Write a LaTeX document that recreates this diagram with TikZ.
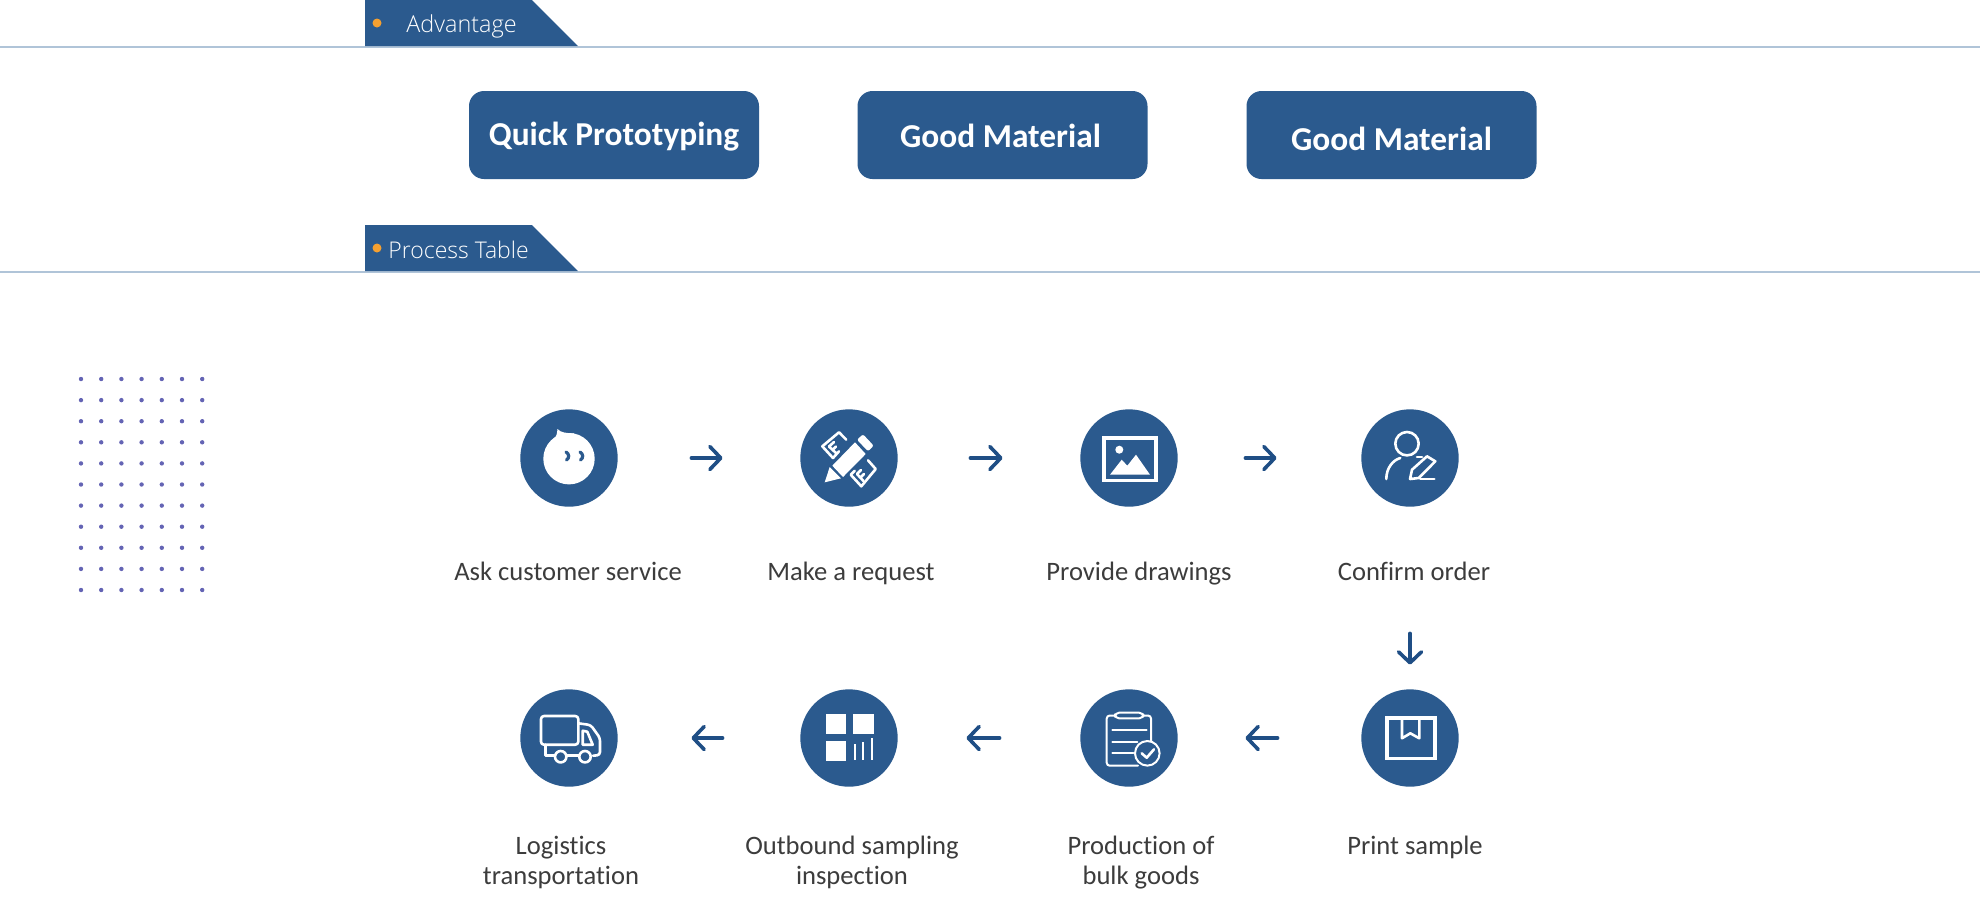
\documentclass[tikz,border=0pt]{standalone}
\usepackage{fontspec}
\usetikzlibrary{arrows.meta}
\setmainfont{Carlito}[Ligatures=NoCommon]
\newfontfamily\tabfont{Open Sans Light}
\newfontfamily\btnfont{Carlito Bold}[Ligatures=NoCommon]
\definecolor{brand}{HTML}{2B5A8E}
\definecolor{arrowblue}{HTML}{1F4E85}
\definecolor{rule}{HTML}{B0C4D8}
\definecolor{spot}{HTML}{F5A030}
\definecolor{speck}{HTML}{6464B4}
\definecolor{ink}{HTML}{3C3C3C}
\tikzset{
  x=0.5pt,y=-0.5pt,
  tabshape/.style={fill=brand,draw=none},
  headrule/.style={draw=rule,line width=1pt},
  tabdot/.style={fill=spot,draw=none},
  tabtext/.style={text=white,font=\tabfont\fontsize{11.7}{14}\selectfont,anchor=base west,inner sep=0pt},
  btn/.style={fill=brand,rounded corners=7.5pt,minimum width=145pt,minimum height=44pt,inner sep=0pt},
  btnlabel/.style={text=white,font=\btnfont\fontsize{16.7}{20}\selectfont,inner sep=0pt,anchor=base},
  disc/.style={circle,fill=brand,minimum size=48.7pt,inner sep=0pt},
  caption/.style={text=ink,font=\fontsize{13.3}{16}\selectfont,align=center,inner sep=0pt,anchor=base},
  flow/.style n args={2}{draw=arrowblue,line width=1.8pt,line cap=round,-{Straight Barb[round,length=5.5pt,width=11.5pt]},shorten <=#1,shorten >=#2},
  icl/.style={draw=white,line width=1.3pt,fill=none,line join=round,line cap=round},
  icf/.style={fill=white,draw=none},
}
\begin{document}
\begin{tikzpicture}
\useasboundingbox (0,0) rectangle (1980,918);
% section headers
\draw[headrule] (0,47) -- (1980,47);
\fill[tabshape] (365,0) -- (532,0) -- (578,46) -- (365,46) -- cycle;
\fill[tabdot] (377,23) circle (4.5);
\node[tabtext] (t1) at (406,32) {Advantage};
\draw[headrule] (0,272) -- (1980,272);
\fill[tabshape] (365,225) -- (532,225) -- (578,271) -- (365,271) -- cycle;
\fill[tabdot] (377,248) circle (4.5);
\node[tabtext,font=\tabfont\fontsize{11.5}{14}\selectfont] (t2) at (388,258) {Process Table};
% buttons
\node[btn] (b1) at (614,135) {};
\node[btnlabel] (bl1) at (614,145) {Quick Prototyping};
\node[btn] (b2) at (1002.5,135) {};
\node[btnlabel] (bl2) at (1000.5,147) {Good Material};
\node[btn] (b3) at (1391.5,135) {};
\node[btnlabel] (bl3) at (1391.5,150) {Good Material};
% dot grid
\foreach \i in {0,...,6}{\foreach \j in {0,...,10}{
  \fill[speck] (81+\i*20.2,379+\j*21.1) circle (2.2);}}
% discs
\node[disc] (c1) at (569,458) {};
\node[disc] (c2) at (849,458) {};
\node[disc] (c3) at (1129,458) {};
\node[disc] (c4) at (1410,458) {};
\node[disc] (c5) at (569,738) {};
\node[disc] (c6) at (849,738) {};
\node[disc] (c7) at (1129,738) {};
\node[disc] (c8) at (1410,738) {};
% captions
\node[caption] (l1) at (568,580.7) {Ask customer service};
\node[caption] (l2) at (851,580.7) {Make a request};
\node[caption] (l3) at (1139,580.7) {Provide drawings};
\node[caption] (l4) at (1414,580.7) {Confirm order};
\node[caption] (l5) at (561,854) {Logistics};
\node[caption] (l5b) at (561,884) {transportation};
\node[caption] (l6) at (852,854) {Outbound sampling};
\node[caption] (l6b) at (852,884) {inspection};
\node[caption] (l7) at (1141,854) {Production of};
\node[caption] (l7b) at (1141,884) {bulk goods};
\node[caption] (l8) at (1415,854) {Print sample};
% connectors
\draw[flow={36.65pt}{38.65pt}] (c1) -- (c2);
\draw[flow={36.15pt}{38.65pt}] (c2) -- (c3);
\draw[flow={33.65pt}{42.15pt}] (c3) -- (c4);
\draw[flow={63.15pt}{12.15pt}] (c4) -- (c8);
\draw[flow={41.65pt}{33.65pt}] (c8) -- (c7);
\draw[flow={40.15pt}{34.15pt}] (c7) -- (c6);
\draw[flow={38.65pt}{36.65pt}] (c6) -- (c5);
% icon: chat face
\begin{scope}[shift={(c1.center)}]
\fill[icf] (0,0.7) circle (25.7);
\fill[icf] (-16,-19) .. controls (-12,-21) and (-12,-25) .. (-11.5,-29) .. controls (-8,-25) and (-2,-25) .. (5,-24.5) -- (0,-10) -- cycle;
\draw[draw=brand,line width=1.6pt,line cap=round] (-3,-6) .. controls (0.5,-4) and (0.5,0) .. (-2.5,2);
\draw[draw=brand,line width=1.6pt,line cap=round] (11,-6) .. controls (14.5,-4) and (14.5,0) .. (11.5,2);
\end{scope}
% icon: pencil and rulers
\begin{scope}[shift={(c2.center)}]
\fill[icf] (6,-15.7) -- (16.7,-4) -- (-6,19) -- (-16.7,7.7) -- cycle;
\fill[icf,rounded corners=1pt] (8,-18.3) -- (14,-23.7) -- (24.7,-12.3) -- (19,-6.7) -- cycle;
\fill[icf] (-19.3,9) -- (-8,20.3) -- (-24.3,24.3) -- cycle;
\draw[icl] (-2.7,-18.3) -- (-10,-25.7) -- (-26.7,-11.7) -- (-16,0) -- (-10,-6.7);
\draw[icl] (-20,-11.5) -- (-13,-5) (-20,-11.5) -- (-15,-16) (-16.5,-8) -- (-13,-11.5);
\draw[icl] (19,2.3) -- (26.7,11) -- (12.3,28.3) -- (1.7,16.7) -- (5.7,12.7);
\draw[icl] (8,16) -- (14.5,23) (8,16) -- (12,12) (11.5,19.5) -- (15,16);
\end{scope}
% icon: picture
\begin{scope}[shift={(c3.center)}]
\draw[icl,line width=1.7pt,line join=miter] (-25,-20) rectangle (27,22.5);
\fill[icf] (-9.7,-8.3) circle (4);
\fill[icf] (-19,16.7) -- (-7.3,1.7) -- (-1.7,7.7) -- (7,-3.3) -- (21,16.7) -- cycle;
\end{scope}
% icon: person and pen
\begin{scope}[shift={(c4.center)}]
\draw[icl] (-3,-14.3) circle (11.7);
\draw[icl] (-23.7,21) .. controls (-23.7,10) and (-17,2) .. (-9.7,0);
\draw[icl] (7,-1) -- (12,-1);
\draw[icl] (17,-1.7) -- (25.3,3.3) -- (8.7,20) -- (0,21) -- (2,11.7) -- cycle;
\draw[icl] (10.3,21) -- (24.3,21);
\end{scope}
% icon: truck
\begin{scope}[shift={(c5.center)}]
\draw[icl,rounded corners=1.5pt] (-28,-22) rectangle (9.3,6.7);
\draw[icl,rounded corners=1.5pt] (9.3,-14.7) -- (21.7,-13) -- (31,0) -- (31,17) -- (24,17.7);
\draw[icl] (-23.3,6.7) -- (-23.3,17.7) -- (-14,17.7);
\draw[icl] (-2.3,17.7) -- (10,17.7);
\draw[icl] (-8.3,18.7) circle (5.7);
\draw[icl] (16,18.7) circle (5.7);
\draw[icl] (13.7,-7.3) -- (18.3,-6.3) -- (23.7,6.7) -- (13.7,6.7) -- cycle;
\end{scope}
% icon: grid and bars
\begin{scope}[shift={(c6.center)}]
\fill[icf] (-23.3,-24) rectangle (-2.7,-4);
\fill[icf] (4,-24) rectangle (24.7,-4);
\fill[icf] (-23.3,2.7) rectangle (-2.7,22.7);
\fill[icf] (4.6,6) rectangle (7.4,22);
\fill[icf] (12.6,4) rectangle (15.4,22);
\fill[icf] (21.6,0.3) rectangle (24.4,22);
\end{scope}
% icon: clipboard
\begin{scope}[shift={(c7.center)}]
\draw[icl,line width=1pt,rounded corners=1.5pt] (9,27.7) -- (-22.3,27.7) -- (-22.3,-22.5) -- (22,-22.5) -- (22,3);
\draw[icl,line width=1pt,fill=brand,rounded corners=2pt] (-14,-25.3) rectangle (14.3,-19.7);
\draw[icl,line width=1pt] (-16.7,-8) -- (17.7,-8);
\draw[icl,line width=1pt] (-16.7,3.7) -- (8.3,3.7);
\draw[icl,line width=1pt] (-16.7,15.3) -- (4.3,15.3);
\draw[icl,line width=1pt] (18.3,15.3) circle (12.3);
\draw[icl] (12.7,15.3) -- (17.7,19.7) -- (25,11.3);
\end{scope}
% icon: parcel
\begin{scope}[shift={(c8.center)}]
\draw[icl,line width=1.8pt,line join=miter] (-23,-20) rectangle (25,20.3);
\draw[icl] (-8,-20) -- (-8,0.3) -- (0.3,-4.7) -- (9.3,0.3) -- (9.3,-20);
\end{scope}
\end{tikzpicture}
\end{document}
